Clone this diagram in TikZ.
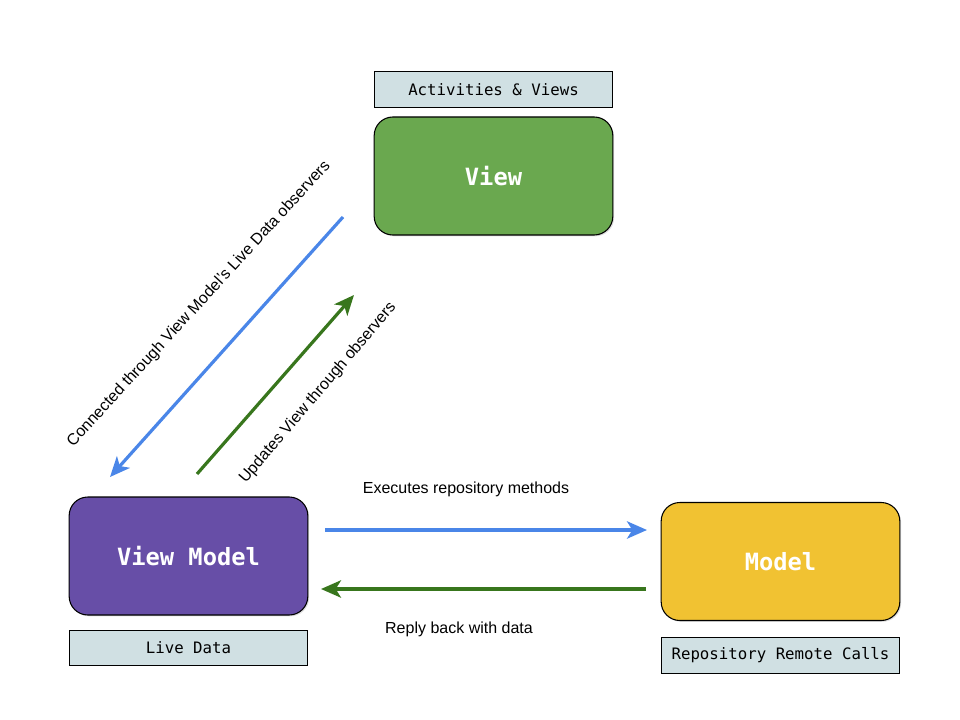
\documentclass[tikz,border=0pt]{standalone}
\usepackage{fontspec}
\setmainfont{Liberation Sans}
\newfontfamily\monof{DejaVu Sans Mono}
\usetikzlibrary{arrows.meta,shadows}
\definecolor{cblue}{HTML}{4A86E8}
\definecolor{cgreen}{HTML}{38761D}
\definecolor{vgreen}{HTML}{6AA84F}
\definecolor{vpurple}{HTML}{674EA7}
\definecolor{vyellow}{HTML}{F1C232}
\definecolor{lblfill}{HTML}{D0E0E3}
\tikzset{
  mainbox/.style={draw=black, line width=0.8pt, rounded corners=14pt, minimum width=179pt, minimum height=88.5pt, inner sep=0pt, text=white, font=\monof\bfseries\fontsize{17.8}{20}\selectfont, drop shadow={opacity=0.25, shadow xshift=1pt, shadow yshift=-1pt}},
  tagbox/.style={draw=black, line width=0.6pt, fill=lblfill, minimum width=179pt, minimum height=26.5pt, inner sep=0pt, font=\monof\fontsize{11.8}{14}\selectfont},
  conn/.style={line width=2.4pt, -{Stealth[length=15pt, width=13pt, inset=4pt]}},
  lbl/.style={font=\fontsize{12}{14}\selectfont, inner sep=0pt}
}
\begin{document}
\begin{tikzpicture}[x=0.75pt, y=-0.75pt]
\useasboundingbox (0,0) rectangle (960,720);
\node[tagbox] (tagview) at (493.5,89.5) {Activities \& Views};
\node[mainbox, fill=vgreen] (view) at (493.5,176) {View};
\node[mainbox, fill=vpurple] (vm) at (188.5,556) {View Model};
\node[tagbox] (tagvm) at (188.5,648) {Live Data};
\node[mainbox, fill=vyellow] (model) at (780.5,561.5) {Model};
\node[tagbox] (tagmodel) at (780.5,655.5) {Repository Remote Calls};

\coordinate (b1s) at (343,217);
\coordinate (b1e) at (110,477);
\coordinate (g1s) at (197,474);
\coordinate (g1e) at (354,295);
\coordinate (b2s) at (325,530);
\coordinate (b2e) at (647,530);
\coordinate (g2s) at (646,589);
\coordinate (g2e) at (321,589);

\draw[conn, cblue] (b1s) -- (b1e);
\draw[conn, cgreen] (g1s) -- (g1e);
\draw[conn, cblue] (b2s) -- (b2e);
\draw[conn, cgreen] (g2s) -- (g2e);

\node[lbl, rotate=47.5] (l1) at (199,304) {Connected through View Model's Live Data observers};
\node[lbl, rotate=49.5] (l2) at (318,393) {Updates View through observers};
\node[lbl] (l3) at (466,489) {Executes repository methods};
\node[lbl] (l4) at (459,629) {Reply back with data};
\end{tikzpicture}
\end{document}
